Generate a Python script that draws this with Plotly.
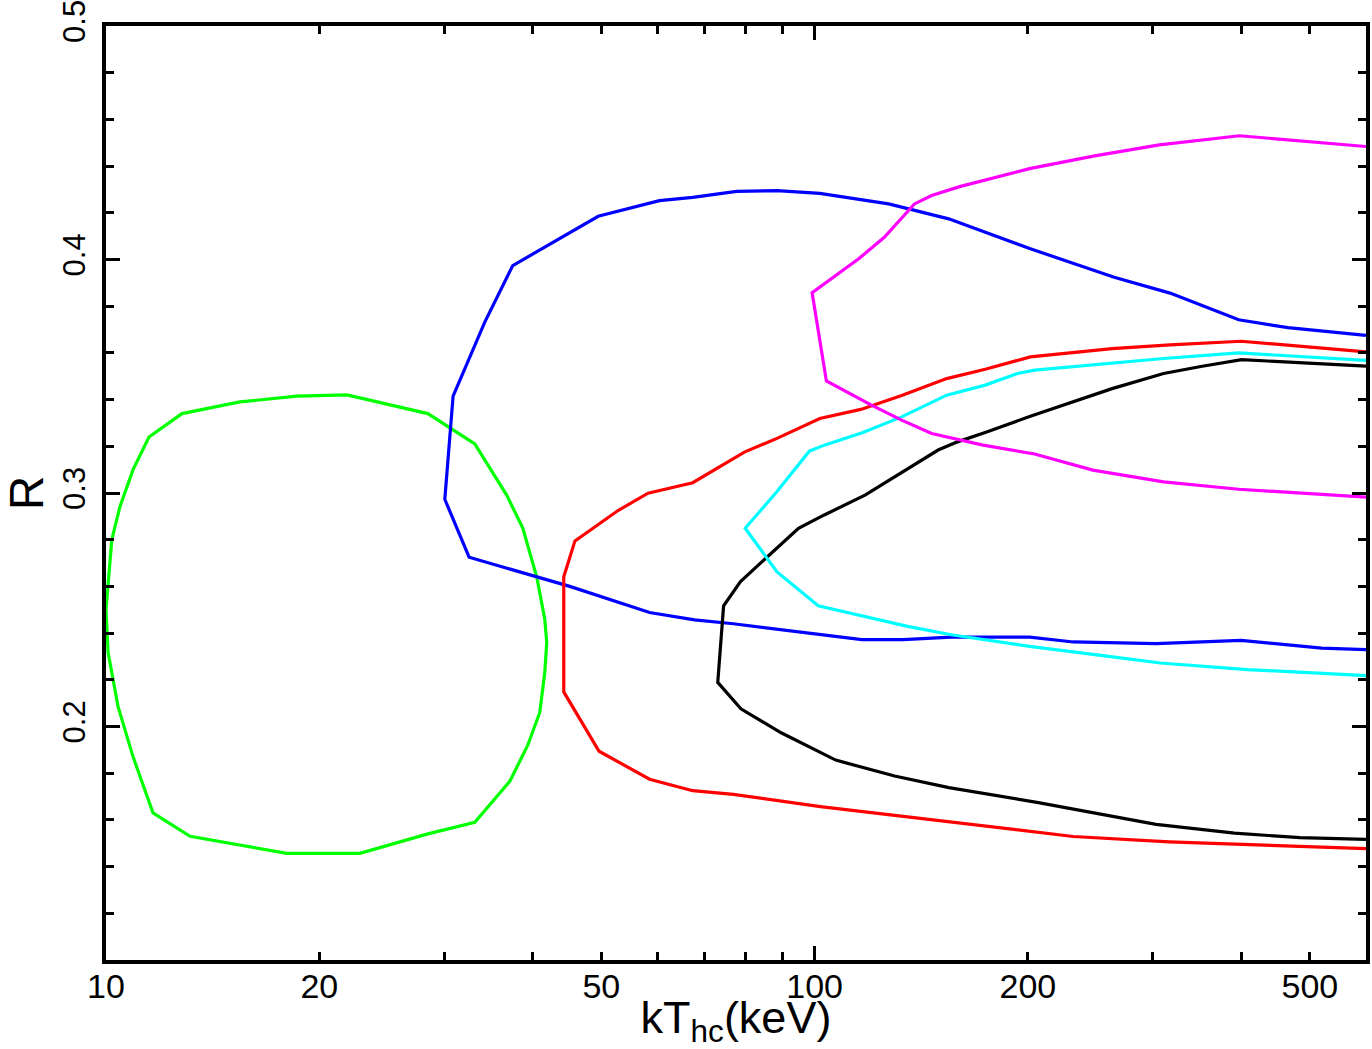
import plotly.graph_objects as go

# ---- data (kT_hc in keV, R) ----
green_x = [10.0, 10.19, 10.46, 10.92, 11.50, 12.80, 15.45, 18.60, 21.88, 24.59, 28.46, 33.15, 36.78, 38.74,
           40.54, 41.61, 41.88, 41.61, 40.94, 39.37, 37.14, 33.15, 28.46, 22.82, 18.00, 13.14, 11.65, 10.92,
           10.40, 10.07, 10.0]
green_y = [0.250, 0.280, 0.294, 0.310, 0.324, 0.334, 0.339, 0.3415, 0.342, 0.3385, 0.334, 0.321, 0.299, 0.285,
           0.264, 0.246, 0.236, 0.223, 0.206, 0.192, 0.1765, 0.159, 0.154, 0.1457, 0.1457, 0.153, 0.163, 0.187,
           0.2085, 0.2316, 0.250]

blue_x = [600, 465.6, 396.7, 317.4, 264.7, 231.8, 201.6, 154.6, 127.2, 101.7, 88.5, 77.6, 67.3, 60.4, 49.5,
          37.5, 34.24, 30.89, 30.07, 32.54, 45.13, 58.5, 67.7, 76.8, 101.9, 116.6, 133.4, 155.9, 201.2, 231.7,
          303.3, 399.9, 519.6, 600]
blue_y = [0.3675, 0.3708, 0.3742, 0.3856, 0.3924, 0.3982, 0.4046, 0.4174, 0.4238, 0.4283, 0.4295, 0.4292,
          0.4266, 0.4252, 0.4185, 0.3974, 0.3732, 0.3415, 0.2973, 0.2725, 0.2600, 0.2488, 0.2457, 0.2440,
          0.2393, 0.2372, 0.2372, 0.2383, 0.2383, 0.2362, 0.2355, 0.2369, 0.2336, 0.2329]

red_x = [600, 399.7, 317.4, 262.9, 201.6, 174.1, 153.6, 132.7, 116.2, 101.7, 88.5, 79.6, 67.3, 58.2, 52.8,
         45.9, 44.26, 44.26, 49.64, 58.5, 67.3, 76.8, 101.9, 151.5, 231.7, 316.4, 402.8, 600]
red_y = [0.3604, 0.3650, 0.3634, 0.3618, 0.3583, 0.3530, 0.3490, 0.3418, 0.3358, 0.3319, 0.3234, 0.3175,
         0.3044, 0.2999, 0.2925, 0.2795, 0.2641, 0.2148, 0.1894, 0.1774, 0.1725, 0.1709, 0.1657, 0.1595,
         0.1529, 0.1506, 0.1496, 0.1477]

black_x = [600, 400.6, 352.4, 310.8, 262.9, 201.6, 175.3, 159.1, 149.4, 134.5, 117.8, 103.2, 94.9, 78.6,
           74.4, 73.0, 78.7, 89.7, 107.1, 129.7, 154.7, 206.9, 259.7, 303.3, 391.4, 484.1, 600]
black_y = [0.3543, 0.3571, 0.3543, 0.3512, 0.3447, 0.3329, 0.3262, 0.3219, 0.3184, 0.3098, 0.2991, 0.2906,
           0.2849, 0.2621, 0.2517, 0.2189, 0.2076, 0.1973, 0.1856, 0.1788, 0.1738, 0.1674, 0.1620, 0.1581,
           0.1543, 0.1524, 0.1517]

cyan_x = [600, 396.7, 310.8, 262.9, 204.4, 193.3, 174.1, 153.6, 132.7, 117.0, 103.2, 98.3, 88.5, 79.8,
          88.5, 101.2, 117.4, 135.3, 155.9, 201.2, 263.3, 307.6, 408.3, 600]
cyan_y = [0.3568, 0.3600, 0.3576, 0.3557, 0.3526, 0.3512, 0.3462, 0.3419, 0.3326, 0.3259, 0.3205, 0.3179,
          0.3006, 0.2849, 0.2662, 0.2517, 0.2471, 0.2429, 0.2393, 0.2343, 0.2298, 0.2272, 0.2244, 0.2218]

magenta_x = [600, 397.6, 306.6, 248.4, 201.1, 160.2, 146.3, 138.3, 125.4, 115.4, 99.2, 103.9, 120.3, 132.7,
             146.3, 172.9, 204.4, 247.0, 310.8, 396.7, 600]
magenta_y = [0.4484, 0.4530, 0.4491, 0.4444, 0.4389, 0.4312, 0.4274, 0.4238, 0.4095, 0.4003, 0.3858, 0.3480,
             0.3376, 0.3312, 0.3255, 0.3205, 0.3167, 0.3098, 0.3048, 0.3016, 0.2982]

x_label_vals = [10, 20, 50, 100, 200, 500]
x_minor_vals = [30, 40, 60, 70, 80, 90, 300, 400]
x_decade_vals = [10, 100]
y_label_vals = [0.2, 0.3, 0.4, 0.5]
y_label_text = ["0.2", "0.3", "0.4", "0.5"]

series = [
    (green_x, green_y, "#00ff00"),
    (blue_x, blue_y, "#0000ff"),
    (red_x, red_y, "#ff0000"),
    (black_x, black_y, "#000000"),
    (cyan_x, cyan_y, "#00ffff"),
    (magenta_x, magenta_y, "#ff00ff"),
]

fig = go.Figure()
for xs, ys, col in series:
    fig.add_trace(go.Scatter(x=xs, y=ys, mode="lines", line=dict(color=col, width=3.2),
                             showlegend=False, hoverinfo="skip"))

# invisible trace to hold the overlay axis with decade ticks
fig.add_trace(go.Scatter(x=[20], y=[0.3], xaxis="x2", yaxis="y", mode="markers",
                         marker=dict(opacity=0), showlegend=False, hoverinfo="skip"))

font_family = "Liberation Sans, Arial, Helvetica, sans-serif"
xr = [1, 2.77815]

fig.update_layout(
    width=1372, height=1049,
    margin=dict(l=106, r=6, t=26, b=89, autoexpand=False),
    paper_bgcolor="white", plot_bgcolor="white",
    font=dict(family=font_family, color="black"),
    xaxis=dict(
        type="log", range=xr, automargin=False,
        tickvals=x_label_vals, ticktext=[str(v) for v in x_label_vals],
        ticks="inside", ticklen=8, tickwidth=3, tickcolor="black",
        minor=dict(tickvals=x_minor_vals, ticks="inside", ticklen=8, tickwidth=3, tickcolor="black"),
        showline=True, linewidth=3.5, linecolor="black", mirror="ticks",
        showgrid=False, zeroline=False,
        tickfont=dict(size=34), ticklabelstandoff=-7, ticklabeloverflow="allow",
        title=dict(text="kT<sub>hc</sub>(keV)", font=dict(size=45), standoff=4),
    ),
    xaxis2=dict(
        type="log", range=xr, overlaying="x", anchor="y", side="bottom", automargin=False,
        tickvals=x_decade_vals, ticks="inside", ticklen=14, tickwidth=3, tickcolor="black",
        showticklabels=False, showline=False, mirror="ticks", showgrid=False, zeroline=False,
    ),
    yaxis=dict(
        range=[0.1, 0.5], automargin=False,
        tickvals=y_label_vals, ticktext=y_label_text,
        ticks="inside", ticklen=14, tickwidth=3, tickcolor="black",
        minor=dict(dtick=0.02, tick0=0.1, ticks="inside", ticklen=8, tickwidth=3, tickcolor="black"),
        showline=True, linewidth=3.5, linecolor="black", mirror="ticks",
        showgrid=False, zeroline=False,
        tickangle=-90,
        tickfont=dict(size=31), ticklabelstandoff=5, ticklabeloverflow="allow",
        title=dict(text="R", font=dict(size=48), standoff=2),
    ),
)

fig.write_html("out.html")
